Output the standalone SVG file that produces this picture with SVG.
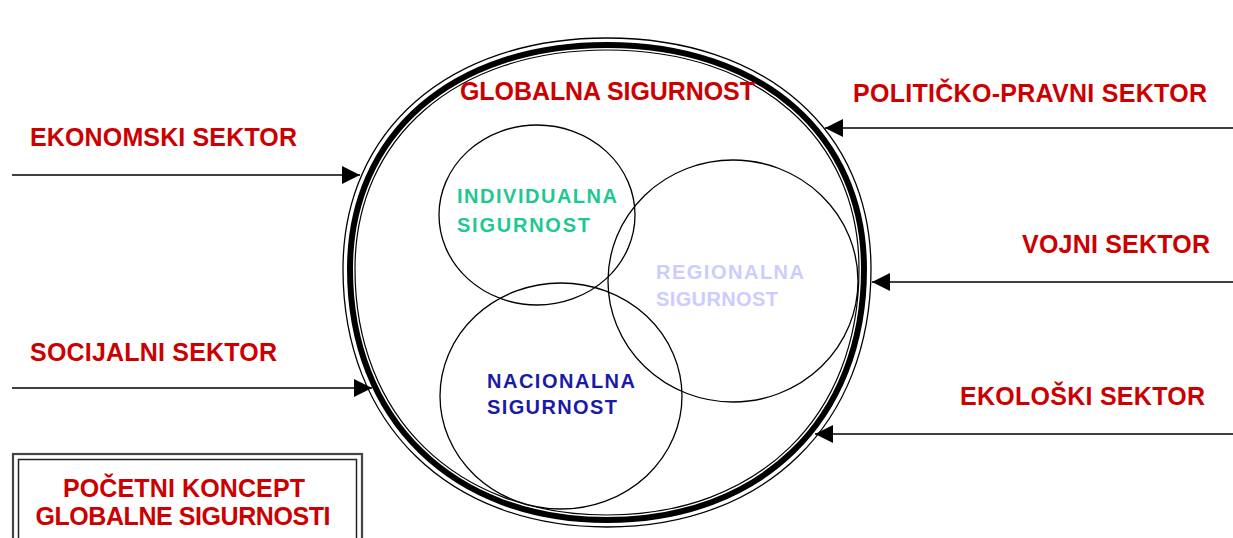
<svg xmlns="http://www.w3.org/2000/svg" width="1233" height="538" viewBox="0 0 1233 538">
<style>
  .lbl { font-family: "Liberation Sans", Arial, sans-serif; font-weight: bold; }
  .red { fill: #cc0000; font-size: 25px; }
  .inner { font-size: 20px; }
  .ring { fill: none; stroke: #000; }
  .sub { fill: none; stroke: #000; stroke-width: 1.3; }
  .conn { stroke: #000; stroke-width: 1.5; fill: none; }
</style>
<defs>
  <marker id="ah" viewBox="0 0 18 18" refX="18" refY="9" markerWidth="18" markerHeight="18" markerUnits="userSpaceOnUse" orient="auto">
    <path d="M0,0 L18,9 L0,18 Z" fill="#000"/>
  </marker>
</defs>
<rect width="1233" height="538" fill="#fff"/>

<g id="globalna-sigurnost">
  <path class="ring" stroke-width="1.3" d="M343,269 C343,130.4 448.6,38 607,38 C765.4,38 871,130.4 871,269 C871,423.8 765.4,527 607,527 C448.6,527 343,423.8 343,269 Z"/>
  <path class="ring" stroke-width="6" d="M350,269 C350,134.6 452.8,45 607,45 C761.2,45 864,134.6 864,269 C864,419.6 761.2,520 607,520 C452.8,520 350,419.6 350,269 Z"/>
  <path class="ring" stroke-width="1.2" d="M355,269 C355,137.6 455.8,50 607,50 C758.2,50 859,137.6 859,269 C859,416.6 758.2,515 607,515 C455.8,515 355,416.6 355,269 Z"/>
  <text class="lbl red" x="460" y="100" textLength="295" lengthAdjust="spacing">GLOBALNA SIGURNOST</text>
</g>

<g id="individualna-sigurnost">
  <ellipse class="sub" cx="537" cy="215" rx="98" ry="90"/>
  <text class="lbl inner" fill="#1ec893" x="457" y="203" textLength="160" lengthAdjust="spacing">INDIVIDUALNA</text>
  <text class="lbl inner" fill="#1ec893" x="457" y="232" textLength="133" lengthAdjust="spacing">SIGURNOST</text>
</g>

<g id="regionalna-sigurnost">
  <ellipse class="sub" cx="733" cy="281" rx="125" ry="121"/>
  <text class="lbl inner" fill="#ccccff" x="656" y="279" textLength="148" lengthAdjust="spacing">REGIONALNA</text>
  <text class="lbl inner" fill="#ccccff" x="656" y="306" textLength="122" lengthAdjust="spacing">SIGURNOST</text>
</g>

<g id="nacionalna-sigurnost">
  <ellipse class="sub" cx="561" cy="396" rx="121" ry="113"/>
  <text class="lbl inner" fill="#1a1aa6" x="487" y="388" textLength="148" lengthAdjust="spacing">NACIONALNA</text>
  <text class="lbl inner" fill="#1a1aa6" x="487" y="414" textLength="130" lengthAdjust="spacing">SIGURNOST</text>
</g>

<g id="ekonomski-sektor">
  <text class="lbl red" x="30" y="146" textLength="267" lengthAdjust="spacing">EKONOMSKI SEKTOR</text>
</g>
<g id="socijalni-sektor">
  <text class="lbl red" x="30" y="361" textLength="247" lengthAdjust="spacing">SOCIJALNI SEKTOR</text>
</g>
<g id="politicko-pravni-sektor">
  <text class="lbl red" x="853" y="102" textLength="354" lengthAdjust="spacing">POLITIČKO-PRAVNI SEKTOR</text>
</g>
<g id="vojni-sektor">
  <text class="lbl red" x="1022" y="253" textLength="188" lengthAdjust="spacing">VOJNI SEKTOR</text>
</g>
<g id="ekoloski-sektor">
  <text class="lbl red" x="960" y="405" textLength="245" lengthAdjust="spacing">EKOLOŠKI SEKTOR</text>
</g>

<g id="connectors">
  <line class="conn" x1="12" y1="175" x2="360" y2="175" marker-end="url(#ah)"/>
  <line class="conn" x1="12" y1="388" x2="372" y2="388" marker-end="url(#ah)"/>
  <line class="conn" x1="1233" y1="128" x2="825" y2="128" marker-end="url(#ah)"/>
  <line class="conn" x1="1233" y1="282" x2="872" y2="282" marker-end="url(#ah)"/>
  <line class="conn" x1="1233" y1="434" x2="815" y2="434" marker-end="url(#ah)"/>
</g>

<g id="pocetni-koncept">
  <rect x="13" y="454" width="349" height="100" fill="#fff" stroke="#444" stroke-width="2.2"/>
  <rect x="18.5" y="459.5" width="338" height="90" fill="none" stroke="#222" stroke-width="1.5"/>
  <text class="lbl red" x="184" y="497" text-anchor="middle" textLength="242" lengthAdjust="spacing">POČETNI KONCEPT</text>
  <text class="lbl red" x="183" y="525" text-anchor="middle" textLength="295" lengthAdjust="spacing">GLOBALNE SIGURNOSTI</text>
</g>
</svg>
